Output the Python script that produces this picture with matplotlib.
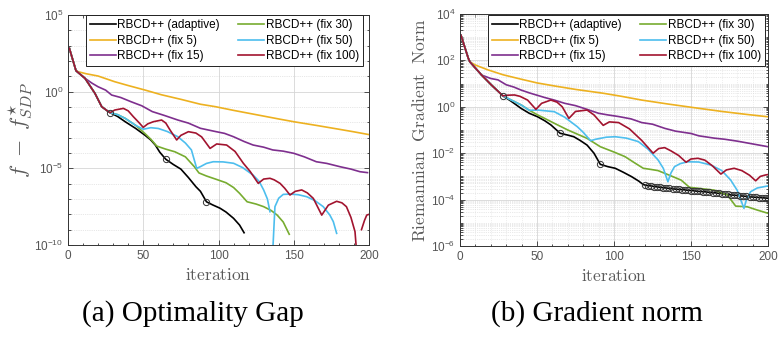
import numpy as np
import matplotlib
matplotlib.use("Agg")
import matplotlib.pyplot as plt
from matplotlib.ticker import LogLocator, MultipleLocator, FixedLocator, NullFormatter

plt.rcParams['font.family'] = ['Liberation Sans', 'DejaVu Sans']
plt.rcParams['mathtext.fontset'] = 'cm'

labels = ['RBCD++ (adaptive)', 'RBCD++ (fix 5)', 'RBCD++ (fix 15)',
          'RBCD++ (fix 30)', 'RBCD++ (fix 50)', 'RBCD++ (fix 100)']
colors = ['#000000', '#EDB120', '#7E2F8E', '#77AC30', '#4DBEEE', '#A2142F']

# ---- (a) optimality gap, values are log10(f - f*) ----
gap_it_adaptive = [0.9, 5.3, 11.3, 17.9, 22.4, 26.8, 28, 33, 38, 45, 51, 55, 58, 61, 65, 70, 75, 80, 85, 88,
                   92, 96, 101, 105, 110, 114, 117]
gap_adaptive = [2.83, 1.37, 0.87, -0.11, -0.98, -1.3, -1.37, -1.62, -1.96, -2.4, -2.83, -3.15, -3.48, -3.95,
                -4.41, -4.75, -5.05, -5.6, -6.2, -6.5, -7.18, -7.38, -7.6, -7.85, -8.26, -8.7, -9.2]
gap_marks = [28, 65, 92]

gap_it_fix5 = [0.9, 5.3, 6.8, 12, 20, 31, 40, 51, 62, 75, 88, 98, 110, 125, 140, 150, 165, 180, 190, 200]
gap_fix5 = [2.83, 1.37, 1.3, 1.17, 1.02, 0.65, 0.4, 0.11, -0.2, -0.5, -0.82, -0.98, -1.22, -1.5, -1.78,
            -1.96, -2.2, -2.45, -2.62, -2.8]

gap_it_fix15 = [0.9, 5.3, 11.3, 16, 20, 25, 29, 35, 42, 49, 56, 64, 73, 80, 88, 98, 104, 110, 117, 123, 130,
                136, 143, 150, 157, 165, 172, 181, 188, 194, 199]
gap_fix15 = [2.83, 1.37, 0.87, 0.55, 0.32, 0.1, -0.22, -0.38, -0.66, -0.92, -1.3, -1.55, -1.85, -2.05, -2.39,
             -2.6, -2.72, -2.94, -3.25, -3.48, -3.62, -3.8, -3.88, -4.02, -4.25, -4.57, -4.68, -4.9, -5.05,
             -5.22, -5.28]

gap_it_fix30 = [0.9, 5.3, 11.3, 17.9, 22.4, 26.8, 28, 33, 38, 45, 51, 55, 59, 65, 71, 78, 84, 87, 92, 98, 105,
                110, 114, 119, 125, 130, 135, 139, 143, 147]
gap_fix30 = [2.83, 1.37, 0.87, -0.11, -0.98, -1.3, -1.37, -1.5, -1.74, -2.2, -2.72, -3.1, -3.55, -3.75, -3.92,
             -4.25, -4.9, -5.3, -5.5, -5.7, -5.94, -6.25, -6.63, -7.18, -7.33, -7.5, -7.75, -8.05, -8.5, -9.3]

gap_it_fix50 = [0.9, 5.3, 11.3, 17.9, 22.4, 26.8, 28, 33, 38, 45, 50, 55, 60, 66, 73, 78, 82, 85.5, 88, 92,
                96.5, 103, 110, 116, 123, 127, 130, 132.5, 134.2, 135, 136, 137.5, 140, 143, 147.5, 153, 158.6,
                164, 169.6, 174, 176.3, 178.5]
gap_fix50 = [2.83, 1.37, 0.87, -0.11, -0.98, -1.3, -1.37, -1.5, -1.74, -2.2, -2.45, -2.35, -2.4, -2.6, -2.94,
             -3.35, -3.8, -5.0, -4.89, -4.68, -4.57, -4.58, -4.67, -4.95, -5.44, -5.85, -6.41, -7.0, -7.83,
             np.nan, -10.5, -7.5, -6.95, -6.7, -6.68, -6.72, -6.85, -7.1, -7.5, -8.05, -8.48, -9.24]

gap_it_fix100 = [0.9, 5.3, 11.3, 17.9, 22.4, 26.8, 28, 31, 36.8, 40, 43.4, 47, 50, 53, 56.7, 62.2, 65, 67.8,
                 72.2, 75, 80, 85, 88.8, 94.4, 98.8, 105.4, 111, 116.5, 121, 126.4, 130, 134.2, 137, 140.9, 144,
                 147.5, 151, 155.3, 159, 163, 168.6, 173, 178.5, 182, 185, 188, 190.7, 191.8, 193, 195, 197,
                 198.5, 200]
gap_fix100 = [2.83, 1.37, 0.87, -0.11, -0.98, -1.3, -1.37, -1.2, -1.09, -1.25, -1.63, -2.0, -2.33, -2.1, -1.96,
              -1.85, -2.05, -2.5, -3.15, -2.85, -2.61, -2.7, -2.95, -3.7, -3.41, -3.48, -3.9, -4.67, -5.2, -5.98,
              -5.7, -5.65, -5.75, -5.98, -6.3, -6.74, -6.5, -6.41, -6.6, -6.96, -8.05, -7.4, -7.15, -7.25, -7.5,
              -8.2, -9.13, -10.5, np.nan, -9.0, -8.4, -8.05, -8.0]

# ---- (b) Riemannian gradient norm, values are log10 ----
grad_it_adaptive = [0.6, 5.4, 6.4, 14, 20.4, 27.9, 33, 39.7, 45, 50.4, 55, 59, 65, 70, 73.9, 78, 82.5, 87, 91.1,
                    96, 100.8, 106, 111.4, 116, 119]
grad_adaptive = [3.09, 2.09, 1.94, 1.37, 0.94, 0.47, 0.25, -0.07, -0.28, -0.43, -0.6, -0.78, -1.14, -1.22, -1.29,
                 -1.45, -1.65, -2.0, -2.48, -2.58, -2.65, -2.82, -3.01, -3.2, -3.35]
grad_it_tail = list(range(120, 201, 2))
grad_tail = [-3.37, -3.40, -3.41, -3.44, -3.45, -3.47, -3.49, -3.50, -3.52, -3.53, -3.55, -3.56, -3.57, -3.58,
             -3.60, -3.61, -3.62, -3.64, -3.65, -3.66, -3.67, -3.69, -3.70, -3.71, -3.73, -3.74, -3.76, -3.78,
             -3.80, -3.81, -3.82, -3.84, -3.85, -3.86, -3.88, -3.89, -3.90, -3.91, -3.92, -3.93, -3.94]
grad_marks = [27.9, 65, 91.1]

grad_it_fix5 = [0.6, 5.4, 6.4, 10, 18.2, 28, 39.7, 50, 61.2, 75, 93.4, 105, 118, 135, 154.5, 170, 185, 200]
grad_fix5 = [3.09, 2.09, 1.94, 1.8, 1.59, 1.38, 1.19, 1.03, 0.9, 0.75, 0.58, 0.45, 0.29, 0.12, -0.06, -0.2,
             -0.32, -0.43]

grad_it_fix15 = [0.6, 5.4, 6.4, 14, 20, 24.7, 30, 35, 39.7, 45, 50, 55, 61.2, 68, 75, 82, 90, 96, 103, 111,
                 118, 125, 133, 140, 150, 155, 165, 172, 180, 190, 200]
grad_fix15 = [3.09, 2.09, 1.94, 1.37, 1.22, 1.16, 0.95, 0.85, 0.72, 0.6, 0.5, 0.4, 0.29, 0.15, 0.05, -0.1, -0.28,
              -0.35, -0.42, -0.52, -0.68, -0.75, -0.93, -1.05, -1.15, -1.25, -1.35, -1.4, -1.48, -1.6, -1.72]

grad_it_fix30 = [0.6, 5.4, 6.4, 14, 20.4, 27.9, 33, 39.7, 45, 50.4, 55, 61.2, 70, 82.5, 91.1, 100, 107.2, 113,
                 119, 124, 128.6, 136, 143.6, 149, 157, 165, 173.6, 179, 186.6, 193, 200]
grad_fix30 = [3.09, 2.09, 1.94, 1.37, 0.94, 0.47, 0.3, 0.08, -0.15, -0.35, -0.5, -0.71, -1.0, -1.36, -1.72, -1.95,
              -2.15, -2.4, -2.65, -2.7, -2.75, -2.95, -3.16, -3.47, -3.53, -3.59, -3.8, -4.28, -4.31, -4.45, -4.59]

grad_it_fix50 = [0.6, 5.4, 6.4, 14, 20.4, 27.9, 33, 39.7, 45, 50.4, 55, 61.2, 68, 76.2, 80, 84.8, 88, 91.1, 95,
                 100.8, 108, 115.8, 122, 128.6, 132, 135, 137, 139.3, 143, 147.8, 155, 162.9, 170, 175.8, 180,
                 184.4, 186, 188.7, 193, 200]
grad_fix50 = [3.09, 2.09, 1.94, 1.37, 0.94, 0.47, 0.3, 0.08, -0.15, -0.14, -0.17, -0.21, -0.45, -0.86, -1.1,
              -1.46, -1.4, -1.36, -1.31, -1.29, -1.35, -1.5, -1.82, -2.29, -2.65, -3.23, -2.85, -2.58, -2.45,
              -2.37, -2.38, -2.51, -2.75, -3.16, -3.6, -4.38, -4.0, -3.66, -3.5, -3.41]

grad_it_fix100 = [0.6, 5.4, 6.4, 14, 20.4, 27.9, 31, 35.4, 39, 43.9, 49.3, 53, 59, 63, 66.4, 70.7, 75, 82.5, 87,
                  93, 97, 103, 110, 118, 125.4, 129, 132.9, 137, 142, 146.8, 150, 154.5, 159, 164, 169.4, 173,
                  178, 183, 188, 192, 195, 198.3, 200]
grad_fix100 = [3.09, 2.09, 1.94, 1.37, 0.94, 0.47, 0.5, 0.51, 0.45, 0.29, -0.11, 0.15, 0.29, 0.2, 0.0, -0.5,
               -0.2, -0.14, -0.35, -0.8, -0.65, -0.68, -0.95, -1.45, -2.0, -1.8, -1.76, -1.9, -2.1, -2.39, -2.25,
               -2.22, -2.3, -2.55, -2.9, -2.72, -2.65, -2.75, -2.95, -3.19, -3.0, -2.94, -2.92]

TICK_C = '#555555'
LABEL_C = '#5a5a5a'

fig = plt.figure(figsize=(7.79, 3.39), dpi=100)
ax1 = fig.add_axes([68 / 779, 1 - 245 / 339, 301 / 779, 230 / 339])
ax2 = fig.add_axes([460 / 779, 1 - 246 / 339, 308 / 779, 232 / 339])


def draw(ax, series, marks_it, marks_val):
    for (it, vals), lab, col in zip(series, labels, colors):
        ax.plot(it, 10.0 ** np.array(vals, dtype=float), color=col, lw=1.2, label=lab)
    ax.plot(marks_it, 10.0 ** np.array(marks_val), 'o', ms=4.5, mfc='none', mec='#333333', mew=0.7)


def style(ax, ylim, majors, dense):
    ax.set_yscale('log')
    ax.set_xlim(0, 200)
    ax.set_ylim(*ylim)
    ax.xaxis.set_major_locator(MultipleLocator(50))
    ax.xaxis.set_minor_locator(MultipleLocator(10))
    ax.yaxis.set_major_locator(FixedLocator(majors))
    if dense:
        ax.yaxis.set_minor_locator(LogLocator(base=10, subs=np.arange(1, 10), numticks=40))
    else:
        ax.yaxis.set_minor_locator(LogLocator(base=10, subs=(1.0,), numticks=40))
    ax.yaxis.set_minor_formatter(NullFormatter())
    ax.tick_params(which='both', direction='in', top=True, right=True, colors='#333333',
                   labelcolor=TICK_C, labelsize=8.5, width=0.6)
    ax.tick_params(which='major', length=3.5)
    ax.tick_params(which='minor', length=1.8)
    for s in ax.spines.values():
        s.set_color('#333333')
        s.set_linewidth(0.7)
    ax.grid(True, which='major', color='#d6d6d6', lw=0.6)
    if dense:
        ax.grid(True, which='minor', axis='y', color='#d4d4d4', lw=0.5, ls=':')
        ax.grid(True, which='minor', axis='x', color='#e0e0e0', lw=0.5, ls=':')
    else:
        ax.grid(True, which='minor', axis='y', color='#d0d0d0', lw=0.5, ls=':')
    ax.set_axisbelow(True)
    ax.set_xlabel(r'$\mathrm{iteration}$', fontsize=12.5, color=LABEL_C, labelpad=4)


gap_series = [(gap_it_adaptive, gap_adaptive), (gap_it_fix5, gap_fix5), (gap_it_fix15, gap_fix15),
              (gap_it_fix30, gap_fix30), (gap_it_fix50, gap_fix50), (gap_it_fix100, gap_fix100)]
gap_mark_val = [gap_adaptive[gap_it_adaptive.index(m)] for m in gap_marks]
draw(ax1, gap_series, gap_marks, gap_mark_val)
style(ax1, (1e-10, 1e5), [1e-10, 1e-5, 1e0, 1e5], False)
ax1.set_ylabel(r'$f\ -\ f^{\star}_{SDP}$', fontsize=16, color=LABEL_C, labelpad=0)

grad_series = [(grad_it_adaptive + grad_it_tail, grad_adaptive + grad_tail), (grad_it_fix5, grad_fix5),
               (grad_it_fix15, grad_fix15), (grad_it_fix30, grad_fix30), (grad_it_fix50, grad_fix50),
               (grad_it_fix100, grad_fix100)]
grad_mark_it = grad_marks + grad_it_tail
grad_mark_val = [grad_adaptive[grad_it_adaptive.index(m)] for m in grad_marks] + grad_tail
draw(ax2, grad_series, grad_mark_it, grad_mark_val)
style(ax2, (1e-6, 1e4), [1e-6, 1e-4, 1e-2, 1e0, 1e2, 1e4], True)
ax2.set_ylabel(r'$\mathrm{Riemannian\ \ Gradient\ \ Norm}$', fontsize=12.5, color=LABEL_C, labelpad=2)

for ax, anchor in [(ax1, (1 - 6 / 301, 1.0)), (ax2, (1 - 3 / 308, 1 - 1 / 232))]:
    leg = ax.legend(ncol=2, loc='upper right', bbox_to_anchor=anchor, borderaxespad=0, fontsize=8.5,
                    fancybox=False, framealpha=1, edgecolor='#222222', handlelength=2.2, handletextpad=0.1,
                    columnspacing=1.6, labelspacing=0.3, borderpad=0.35)
    leg.get_frame().set_linewidth(0.7)

fig.text(193 / 779, 1 - 314 / 339, '(a) Optimality Gap', ha='center', va='center',
         family=['Liberation Serif', 'DejaVu Serif'], fontsize=21)
fig.text(597 / 779, 1 - 314 / 339, '(b) Gradient norm', ha='center', va='center',
         family=['Liberation Serif', 'DejaVu Serif'], fontsize=21)

fig.savefig('out.png', dpi=100)
